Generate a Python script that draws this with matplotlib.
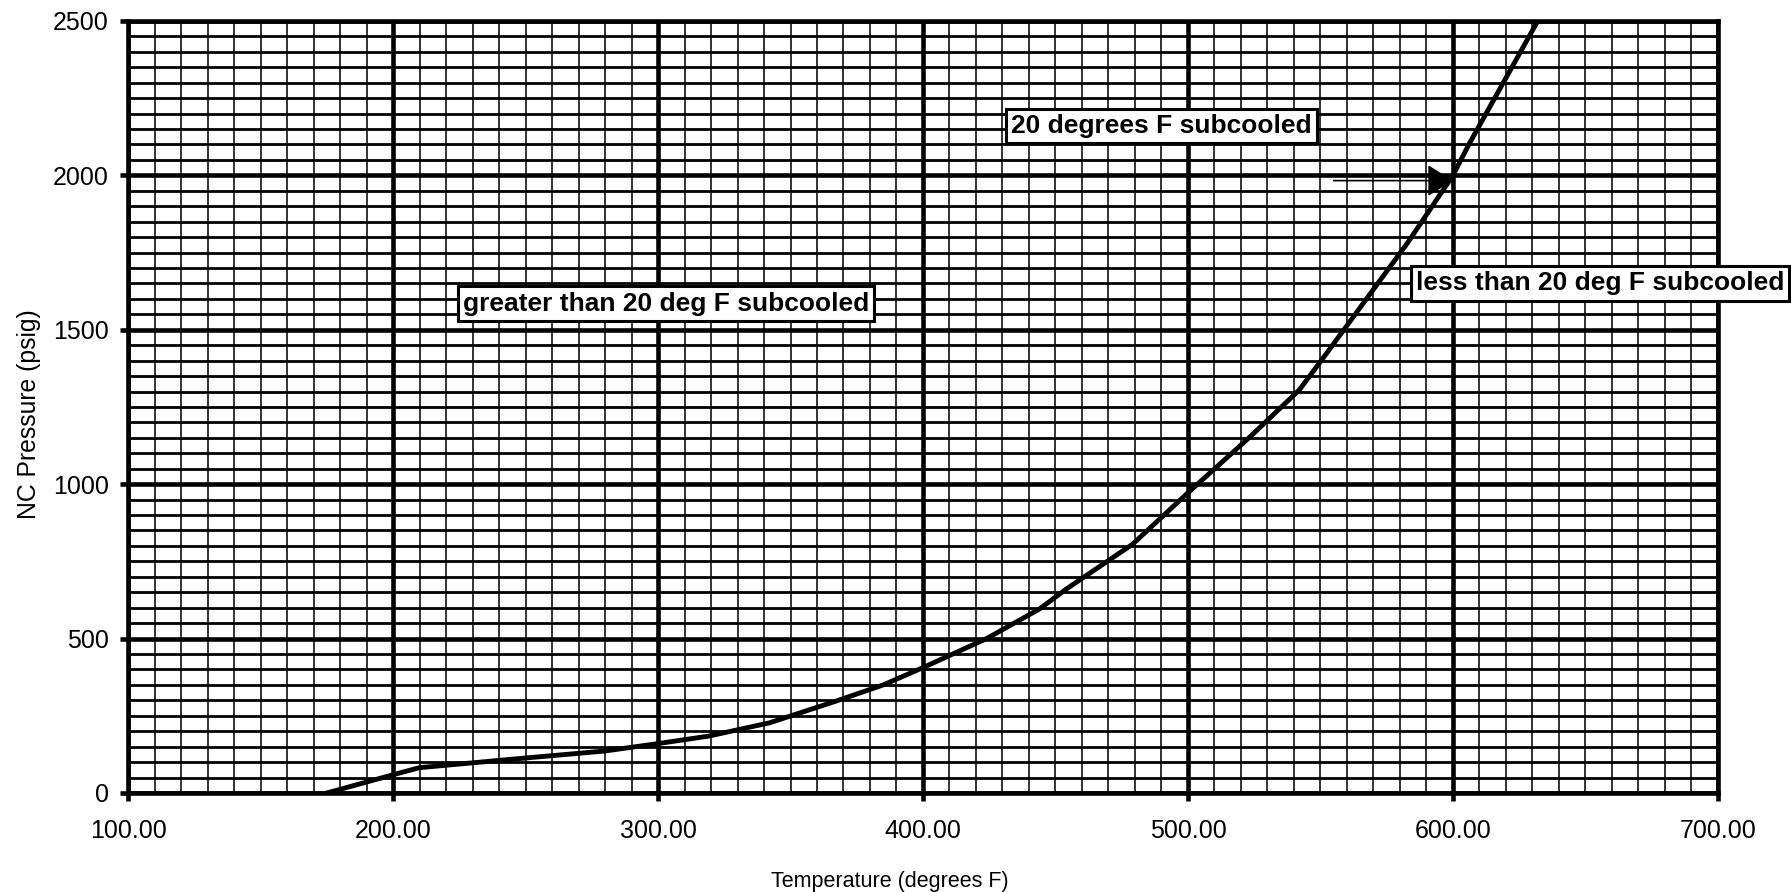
"""
NC pressure vs temperature, 20 deg F subcooling curve.
"""

import matplotlib
matplotlib.use("Agg")
import matplotlib.pyplot as plt
from matplotlib.ticker import MultipleLocator, FormatStrFormatter

plt.rcParams["font.family"] = ["Liberation Sans", "DejaVu Sans"]

# values
temp_f = [175, 200, 210, 247, 280, 300, 319, 342, 367, 385, 400, 424,
          444, 454, 479, 501, 523, 542, 552, 583, 600, 606, 632]
pressure_psig = [0, 59, 82, 111, 136, 160, 184, 227, 297, 350, 406, 500,
                 596, 660, 805, 980, 1150, 1305, 1420, 1783, 2000, 2100, 2500]

labels = ["20 degrees F subcooled",
          "greater than 20 deg F subcooled",
          "less than 20 deg F subcooled"]
label_x = [490, 303, 655.5]
label_y = [2160, 1585, 1650]

arrow_from = (555, 1983)
arrow_to = (600, 1983)

fig = plt.figure(figsize=(17.91, 8.92), dpi=100)
ax = fig.add_axes([0.0715, 0.111, 0.8877, 0.8655])

ax.plot(temp_f, pressure_psig, color="black", lw=3.5,
        solid_joinstyle="round", zorder=5)

ax.set_xlim(100, 700)
ax.set_ylim(0, 2500)
ax.xaxis.set_major_locator(MultipleLocator(100))
ax.xaxis.set_minor_locator(MultipleLocator(10))
ax.yaxis.set_major_locator(MultipleLocator(500))
ax.yaxis.set_minor_locator(MultipleLocator(50))
ax.xaxis.set_major_formatter(FormatStrFormatter("%.2f"))

ax.grid(which="major", color="black", lw=3.3)
ax.xaxis.grid(which="minor", color="#111111", lw=1.2)
ax.yaxis.grid(which="minor", color="black", lw=2.0)
ax.set_axisbelow(True)

for sp in ax.spines.values():
    sp.set_linewidth(3.3)
ax.tick_params(which="major", direction="out", length=6, width=3.3, labelsize=18)
ax.tick_params(axis="x", pad=13)
ax.tick_params(axis="y", pad=8)
ax.tick_params(which="minor", length=0)

ax.set_xlabel("Temperature (degrees F)", fontsize=15.5)
ax.set_ylabel("NC Pressure (psig)", fontsize=17.8)
ax.xaxis.set_label_coords(0.479, -0.101)
ax.yaxis.set_label_coords(-0.055, 0.491)

for txt, x, y in zip(labels, label_x, label_y):
    ax.text(x, y, txt, fontsize=19, fontweight="bold", ha="center", va="center",
            zorder=6, clip_on=False,
            bbox=dict(boxstyle="square,pad=0.2", fc="white", ec="black", lw=2.2))

ax.annotate("", xy=arrow_to, xytext=arrow_from, zorder=6,
            arrowprops=dict(arrowstyle="-|>,head_length=0.8,head_width=0.5",
                            color="black", lw=1.2, mutation_scale=20,
                            shrinkA=0, shrinkB=0))

fig.savefig("out.png", dpi=100)
